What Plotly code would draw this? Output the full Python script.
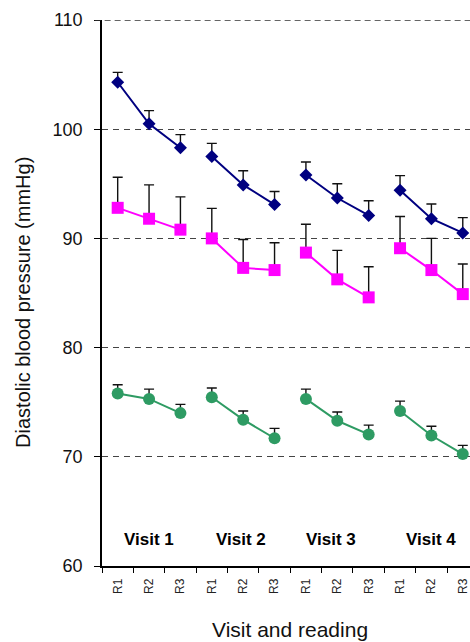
import plotly.graph_objects as go

categories = ["R1", "R2", "R3"] * 4
visits = ["Visit 1", "Visit 2", "Visit 3", "Visit 4"]

navy_vals = [104.3, 100.5, 98.3, 97.5, 94.9, 93.1, 95.8, 93.7, 92.1, 94.4, 91.8, 90.5]
navy_err = [0.9, 1.2, 1.2, 1.2, 1.3, 1.2, 1.2, 1.3, 1.35, 1.35, 1.35, 1.4]

magenta_vals = [92.8, 91.8, 90.8, 90.0, 87.3, 87.1, 88.7, 86.25, 84.6, 89.1, 87.1, 84.9]
magenta_err = [2.8, 3.1, 3.0, 2.75, 2.6, 2.5, 2.6, 2.65, 2.8, 2.9, 2.9, 2.75]

green_vals = [75.8, 75.3, 74.0, 75.45, 73.4, 71.7, 75.3, 73.3, 72.05, 74.2, 71.95, 70.25]
green_err = [0.8, 0.9, 0.8, 0.85, 0.8, 0.9, 0.9, 0.8, 0.85, 0.9, 0.85, 0.8]

visit_label_x = [1.0, 3.94, 6.8, 9.98]
visit_label_y = 62.4

x_title = "Visit and reading"
y_title = "Diastolic blood pressure (mmHg)"

series = [
    (navy_vals, navy_err, "#000080", "diamond", 10),
    (magenta_vals, magenta_err, "#FF00FF", "square", 12),
    (green_vals, green_err, "#2E9B63", "circle", 12),
]

FONT = "Liberation Sans, Arial, sans-serif"
fig = go.Figure()
for vals, err, color, sym, size in series:
    for v in range(4):
        idx = list(range(v * 3, v * 3 + 3))
        fig.add_trace(go.Scatter(
            x=idx,
            y=[vals[i] for i in idx],
            mode="lines+markers",
            line=dict(color=color, width=2),
            marker=dict(symbol=sym, size=size, color=color),
            error_y=dict(type="data", symmetric=False,
                         array=[err[i] for i in idx],
                         arrayminus=[0] * 3,
                         color="#111111", thickness=1.4, width=5),
            showlegend=False,
        ))

for name, xv in zip(visits, visit_label_x):
    fig.add_annotation(x=xv, y=visit_label_y, text="<b>" + name + "</b>",
                       showarrow=False, xref="x", yref="y",
                       font=dict(family=FONT, size=17, color="black"))

# axis titles placed as annotations for exact positioning
fig.add_annotation(x=0.512, y=-0.117, xref="paper", yref="paper", text=x_title,
                   showarrow=False, xanchor="center", yanchor="middle",
                   font=dict(family=FONT, size=21, color="#111111"))
fig.add_annotation(x=-0.215, y=0.4835, xref="paper", yref="paper", text=y_title,
                   showarrow=False, xanchor="center", yanchor="middle", textangle=-90,
                   font=dict(family=FONT, size=20, color="#111111"))

# dashed top line at 110 (gridline at the range edge)
fig.add_shape(type="line", xref="paper", yref="y", x0=-0.02, x1=1, y0=110, y1=110,
              line=dict(color="#333333", width=1.5, dash="6px,4px"))

fig.update_layout(
    width=470, height=642,
    margin=dict(l=102, r=0, t=20, b=76),
    plot_bgcolor="white", paper_bgcolor="white",
    font=dict(family=FONT, color="black"),
)
fig.update_xaxes(
    range=[-0.5, 11.23], automargin=False,
    tickmode="array", tickvals=list(range(12)), ticktext=categories,
    tickangle=-90, tickfont=dict(size=12, color="#222222"), ticks="",
    ticklabelstandoff=6,
    showgrid=False, zeroline=False,
    showline=True, linecolor="black", linewidth=1.5,
    minor=dict(tickvals=[i - 0.5 for i in range(13)], ticks="outside",
               ticklen=5, tickcolor="black", showgrid=False),
)
fig.update_yaxes(
    range=[60, 110], dtick=10, tickfont=dict(size=18, color="#111111"),
    ticks="outside", ticklen=6, tickcolor="black", automargin=False,
    ticklabelstandoff=8,
    showgrid=True, gridcolor="#444444", griddash="6px,5px", gridwidth=1,
    zeroline=False, showline=True, linecolor="black", linewidth=1.5,
)
fig.write_html(
    "out.html",
    config={"displayModeBar": False},
    post_script="document.body.style.margin='0';document.body.style.overflow='hidden';",
)
